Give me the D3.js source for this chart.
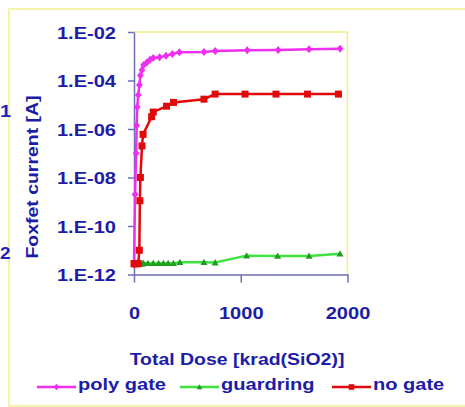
<!DOCTYPE html>
<html>
<head>
<meta charset="utf-8">
<script src="https://cdn.jsdelivr.net/npm/d3@7"></script>
<style>
  body { margin: 0; background: #fff; }
  text { font-family: "Liberation Sans", Arial, sans-serif; font-weight: bold; fill: #1c1ca8; }
</style>
</head>
<body>
<div id="chart"></div>
<script>
// values (dose in krad, current in A)
var polyDose = [0, 10, 20, 25, 30, 40, 50, 60, 75, 90, 120, 150, 180, 240, 300, 360, 425, 655, 760, 1060, 1350, 1640, 1930];
var polyCurrent = [2.5e-12, 2e-9, 1e-7, 1.4e-6, 8e-6, 2.5e-5, 6.5e-5, 1.6e-4, 2.7e-4, 4.4e-4, 5.5e-4, 7.2e-4, 8.5e-4, 9e-4,
    1.05e-3, 1.25e-3, 1.45e-3, 1.5e-3, 1.65e-3, 1.75e-3, 1.8e-3, 1.95e-3, 2.05e-3];

var guardDose = [0, 10, 20, 30, 40, 50, 60, 80, 90, 130, 180, 230, 275, 320, 370, 430, 655, 760, 1055, 1345, 1640, 1930];
var guardCurrent = [2.8e-12, 2.8e-12, 2.8e-12, 2.8e-12, 2.8e-12, 2.8e-12, 2.8e-12, 2.8e-12, 2.9e-12, 2.9e-12, 2.9e-12, 2.9e-12,
    2.9e-12, 2.9e-12, 2.9e-12, 3.2e-12, 3.2e-12, 3.1e-12, 6e-12, 5.8e-12, 5.8e-12, 7.2e-12];

var noGateDose = [0, 10, 20, 30, 40, 50, 55, 60, 75, 85, 165, 180, 305, 370, 655, 760, 1040, 1330, 1625, 1915];
var noGateCurrent = [2.8e-12, 2.8e-12, 2.8e-12, 2.8e-12, 2.8e-12, 1e-11, 1.1e-9, 1e-8, 2e-7, 6e-7, 3.2e-6, 5e-6, 8.7e-6,
    1.25e-5, 1.7e-5, 2.75e-5, 2.75e-5, 2.75e-5, 2.75e-5, 2.75e-5];

var yTicks = [1e-2, 1e-4, 1e-6, 1e-8, 1e-10, 1e-12];
var yTickLabels = ["1.E-02", "1.E-04", "1.E-06", "1.E-08", "1.E-10", "1.E-12"];
var xTicks = [0, 1000, 2000];

var svgWidth = 465;
var svgHeight = 407;
var stretch = 1.18;

var svg = d3.select("#chart")
    .append("svg")
    .attr("width", svgWidth)
    .attr("height", svgHeight);

// outer frame of the slide chart
svg.append("rect")
    .attr("x", 9).attr("y", 9)
    .attr("width", 480).attr("height", 397)
    .attr("fill", "none")
    .attr("stroke", "#f2f08a")
    .attr("stroke-width", 1.5);

var x = d3.scaleLinear().domain([0, 2000]).range([134, 347.5]);
var y = d3.scaleLog().domain([1e-12, 1e-2]).range([274.5, 32]);

// plot area border (top and right)
svg.append("path")
    .attr("d", `M${x(0)},${y(1e-2)}H${x(2000)}V${y(1e-12)}`)
    .attr("fill", "none")
    .attr("stroke", "#f2f08a")
    .attr("stroke-width", 1.5);

var axisColor = "#6e6eb8";

var leftAxis = d3.axisLeft(y)
    .tickValues(yTicks)
    .tickFormat(function (d, i) { return yTickLabels[i]; })
    .tickSize(6)
    .tickSizeOuter(0);

var gy = svg.append("g")
    .attr("transform", `translate(${x(0)},0)`)
    .call(leftAxis);
gy.select(".domain").attr("stroke", axisColor).attr("stroke-width", 1.5);
gy.selectAll(".tick line").attr("stroke", axisColor).attr("stroke-width", 1.5);
gy.selectAll(".tick text")
    .attr("x", -18 / stretch)
    .attr("dy", "0.36em")
    .attr("transform", `scale(${stretch},1)`)
    .style("font-size", "17px")
    .style("fill", "#1c1ca8");

var bottomAxis = d3.axisBottom(x)
    .tickValues(xTicks)
    .tickFormat(d3.format("d"))
    .tickSize(8)
    .tickSizeOuter(0);

var gx = svg.append("g")
    .attr("transform", `translate(0,${y(1e-12)})`)
    .call(bottomAxis);
gx.select(".domain").attr("stroke", axisColor).attr("stroke-width", 1.5);
gx.selectAll(".tick line").attr("stroke", axisColor).attr("stroke-width", 1.5);
gx.selectAll(".tick text")
    .attr("y", 45)
    .attr("dy", 0)
    .attr("transform", `scale(${stretch},1)`)
    .style("font-size", "17px")
    .style("fill", "#1c1ca8");

function stretchText(px, py, str, anchor, size, rotate) {
    return svg.append("text")
        .attr("transform", `translate(${px},${py})` + (rotate ? ` rotate(${rotate})` : "") + ` scale(${stretch},1)`)
        .attr("text-anchor", anchor)
        .style("font-size", size + "px")
        .text(str);
}

// axis titles
stretchText(237, 365, "Total Dose [krad(SiO2)]", "middle", 16.5);
stretchText(38, 177, "Foxfet current [A]", "middle", 16.5, -90);

// fragments of the surrounding slide
stretchText(0, 117, "1", "start", 17).style("fill", "#1a22c0");
stretchText(0, 259, "2", "start", 16).style("fill", "#1a22c0");

// marker shapes
function diamondPath(s) { return `M0,${-s}L${s * 0.85},0L0,${s}L${-s * 0.85},0Z`; }
function squarePath(s) { return `M${-s},${-s}H${s}V${s}H${-s}Z`; }
function trianglePath(s) { return `M0,${-s}L${s},${s * 0.8}H${-s}Z`; }

var series = [
    { name: "poly gate", dose: polyDose, current: polyCurrent, line: "#f02ef0", fill: "#f02ef0", shape: diamondPath, size: 4 },
    { name: "guardring", dose: guardDose, current: guardCurrent, line: "#3fe23f", fill: "#1f9e1f", shape: trianglePath, size: 3.5 },
    { name: "no gate", dose: noGateDose, current: noGateCurrent, line: "#e00a0a", fill: "#e00a0a", shape: squarePath, size: 3.5 }
];

var line = d3.line()
    .x(function (d) { return x(d[0]); })
    .y(function (d) { return y(d[1]); });

series.forEach(function (s) {
    var pts = d3.zip(s.dose, s.current);
    svg.append("path")
        .datum(pts)
        .attr("d", line)
        .attr("fill", "none")
        .attr("stroke", s.line)
        .attr("stroke-width", 2.5);
    svg.append("g").selectAll("path")
        .data(pts)
        .enter().append("path")
        .attr("transform", function (d) { return `translate(${x(d[0])},${y(d[1])})`; })
        .attr("d", s.shape(s.size))
        .attr("fill", s.fill);
});

// legend
var legendX = [37, 180, 332];
var legendY = 387;
series.forEach(function (s, i) {
    var lx = legendX[i];
    svg.append("line")
        .attr("x1", lx).attr("x2", lx + 39)
        .attr("y1", legendY).attr("y2", legendY)
        .attr("stroke", s.line)
        .attr("stroke-width", 2.5);
    svg.append("path")
        .attr("transform", `translate(${lx + 19.5},${legendY})`)
        .attr("d", s.shape(s.size * 0.8))
        .attr("fill", s.fill);
    stretchText(lx + 41, 390, s.name, "start", 17);
});
</script>
</body>
</html>
